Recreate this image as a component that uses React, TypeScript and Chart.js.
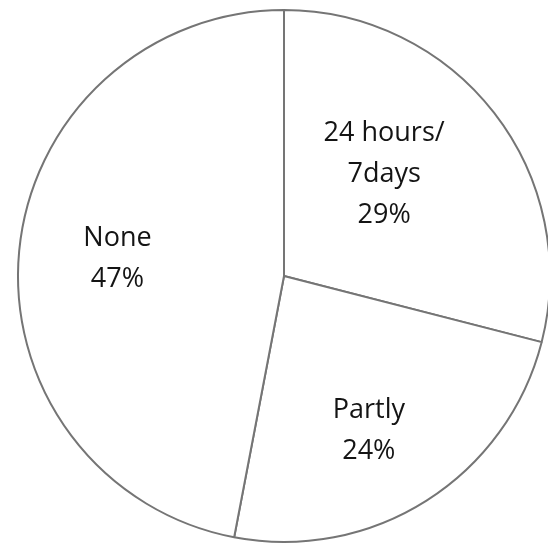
import React, { useEffect, useRef } from "react";
import { Chart, registerables } from "chart.js";

Chart.register(...registerables);

// Share of facilities by availability
const categories: string[][] = [["24 hours/", "7days"], ["Partly"], ["None"]];
const shares: number[] = [29, 24, 47];
const shareLabels: string[] = ["29%", "24%", "47%"];

// Where each label sits inside its slice: fraction of the radius, and a turn (degrees) from the slice's mid-angle
const labelPlacement = [
  { radial: 0.54, turn: -8 },
  { radial: 0.66, turn: 3.5 },
  { radial: 0.63, turn: 1 },
];

const LABEL_FONT = "27px 'Open Sans', 'Liberation Sans', sans-serif";
const LINE_GAP = 41;

const sliceLabels = {
  id: "sliceLabels",
  afterDatasetsDraw(chart: Chart) {
    const ctx = chart.ctx;
    const meta = chart.getDatasetMeta(0);
    ctx.save();
    ctx.font = LABEL_FONT;
    ctx.fillStyle = "#141414";
    ctx.textAlign = "center";
    ctx.textBaseline = "middle";
    meta.data.forEach((arc: any, i: number) => {
      const { x, y, startAngle, endAngle, outerRadius } = arc.getProps(
        ["x", "y", "startAngle", "endAngle", "outerRadius"],
        true
      );
      const place = labelPlacement[i];
      const mid = (startAngle + endAngle) / 2 + (place.turn * Math.PI) / 180;
      const r = outerRadius * place.radial;
      const cx = x + Math.cos(mid) * r;
      const cy = y + Math.sin(mid) * r;
      const lines = [...categories[i], shareLabels[i]];
      const top = cy - ((lines.length - 1) * LINE_GAP) / 2;
      lines.forEach((line, k) => {
        ctx.fillText(line, cx, top + k * LINE_GAP + 1);
      });
    });
    ctx.restore();
  },
};

export default function App() {
  const canvasRef = useRef<HTMLCanvasElement | null>(null);

  useEffect(() => {
    const canvas = canvasRef.current;
    if (!canvas) return;
    const chart = new Chart(canvas, {
      type: "pie",
      data: {
        labels: categories.map((c) => c.join(" ")),
        datasets: [
          {
            data: shares,
            backgroundColor: "#ffffff",
            borderColor: "#757575",
            borderWidth: 2,
            hoverOffset: 0,
          },
        ],
      },
      options: {
        responsive: false,
        animation: false,
        devicePixelRatio: 1,
        radius: 266,
        layout: { padding: 0 },
        events: [],
        plugins: {
          legend: { display: false },
          tooltip: { enabled: false },
        },
      },
      plugins: [sliceLabels],
    });
    return () => chart.destroy();
  }, []);

  return (
    <div
      style={{
        position: "fixed",
        left: 0,
        top: 0,
        width: 548,
        height: 543,
        overflow: "hidden",
        background: "#ffffff",
      }}
    >
      <canvas
        ref={canvasRef}
        width={568}
        height={552}
        style={{ display: "block", width: 568, height: 552 }}
      />
    </div>
  );
}
